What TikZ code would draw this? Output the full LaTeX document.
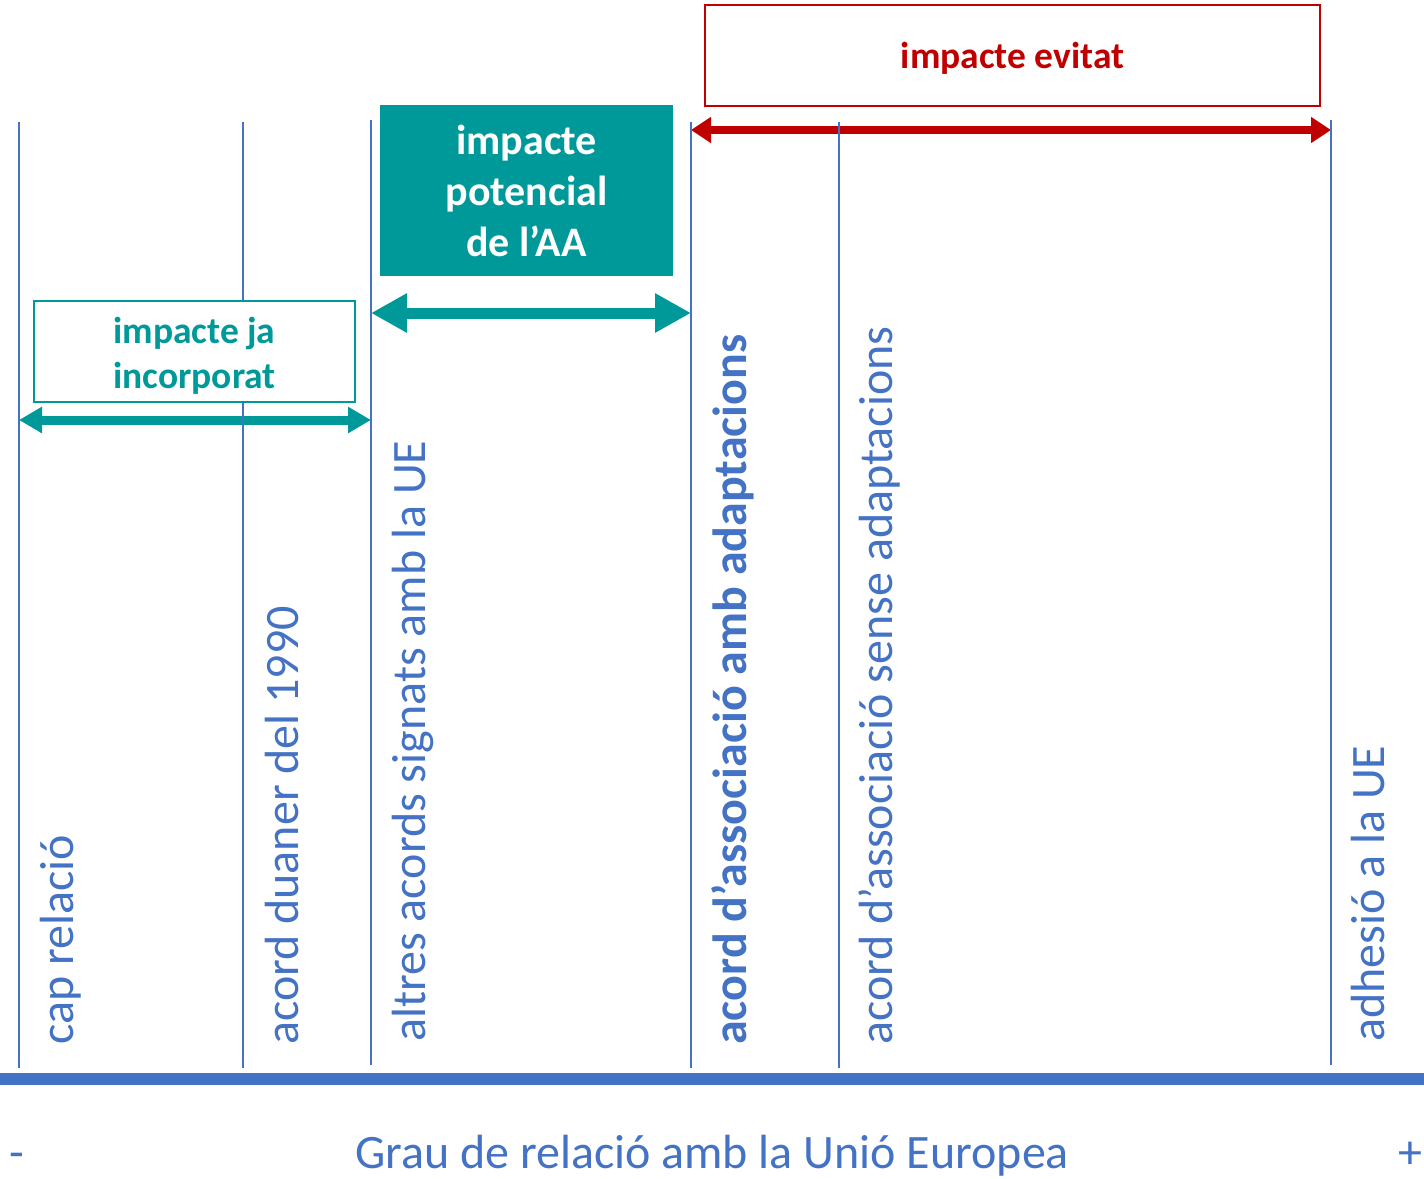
\documentclass[tikz,border=0pt]{standalone}
\usepackage{fontspec}
\setmainfont{Carlito}
\usetikzlibrary{arrows.meta}
\definecolor{axblue}{HTML}{4472C4}
\definecolor{teal}{HTML}{009999}
\definecolor{dred}{HTML}{C00000}
\begin{document}
\begin{tikzpicture}[x=1pt,y=-1pt,
  vline/.style={draw=axblue,line width=2pt},
  vlabel/.style={rotate=90,anchor=base west,text=axblue,inner sep=0pt,font=\fontsize{48}{56}\selectfont},
  tealarrow/.style={draw=teal,line width=9pt,{Triangle[length=23pt,width=25pt]}-{Triangle[length=23pt,width=25pt]}},
  bigtealarrow/.style={draw=teal,line width=11pt,{Triangle[length=36pt,width=37pt]}-{Triangle[length=36pt,width=37pt]}},
  redarrow/.style={draw=dred,line width=8pt,{Triangle[length=20pt,width=25pt]}-{Triangle[length=20pt,width=25pt]}},
  axtext/.style={text=axblue,anchor=base,inner sep=0pt,font=\fontsize{48}{56}\selectfont},
]
\useasboundingbox (0,0) rectangle (1424,1178);
\fill[white] (0,0) rectangle (1424,1178);

% arrows
\coordinate (ja1) at (19,420); \coordinate (ja2) at (371,420);
\draw[tealarrow] (ja1) -- (ja2);
\coordinate (pt1) at (371,313); \coordinate (pt2) at (691,313);
\draw[bigtealarrow] (pt1) -- (pt2);
\coordinate (ev1) at (691,130); \coordinate (ev2) at (1331,130);
\draw[redarrow] (ev1) -- (ev2);

% vertical lines
\foreach \n/\x/\t/\b in {a/19/122/1068, b/243/122/1068, c/371/120/1065, d/691/122/1068, e/839/122/1068, f/1331/120/1065}{
  \coordinate (\n top) at (\x,\t);
  \coordinate (\n bot) at (\x,\b);
  \draw[vline] (\n top) -- (\n bot);
}

% axis bar
\coordinate (axL) at (0,1079);
\coordinate (axR) at (1424,1079);
\draw[axblue,line width=12pt] (axL) -- (axR);

% axis labels
\node[axtext] (axtitle) at (712,1168) {Grau de relació amb la Unió Europea};
\node[axtext] (minus) at (17,1168) {-};
\node[axtext] (plus) at (1410,1168) {+};

% rotated labels
\node[vlabel] (l1) at (73,1045) {cap relació};
\node[vlabel] (l2) at (298,1045) {acord duaner del 1990};
\node[vlabel] (l3) at (425,1042) {altres acords signats amb la UE};
\node[vlabel,font=\fontsize{48}{56}\selectfont\bfseries] (l4) at (746,1045) {acord d’associació amb adaptacions};
\node[vlabel] (l5) at (892,1045) {acord d’associació sense adaptacions};
\node[vlabel] (l6) at (1384,1042) {adhesió a la UE};

% boxes
\node[draw=teal,fill=white,line width=2pt,minimum width=321pt,minimum height=101pt,inner sep=0pt] (bja) at (194.5,351.5) {};
\node[text=teal,font=\fontsize{37.5}{45}\selectfont\bfseries,align=center,anchor=base] (tja) at (194.5,388) {impacte ja\\incorporat};
\node[fill=teal,minimum width=293pt,minimum height=171pt,inner sep=0pt] (bpot) at (526.5,190.5) {};
\node[text=white,font=\fontsize{42}{51}\selectfont\bfseries,align=center,anchor=base] (tpot) at (526.5,256) {impacte\\potencial\\de l’AA};
\node[draw=dred,fill=white,line width=2.5pt,minimum width=615pt,minimum height=101pt,inner sep=0pt] (bev) at (1012.5,55.5) {};
\node[text=dred,font=\fontsize{37.5}{45}\selectfont\bfseries,anchor=base] (tev) at (1012.5,68) {impacte evitat};
\end{tikzpicture}
\end{document}
